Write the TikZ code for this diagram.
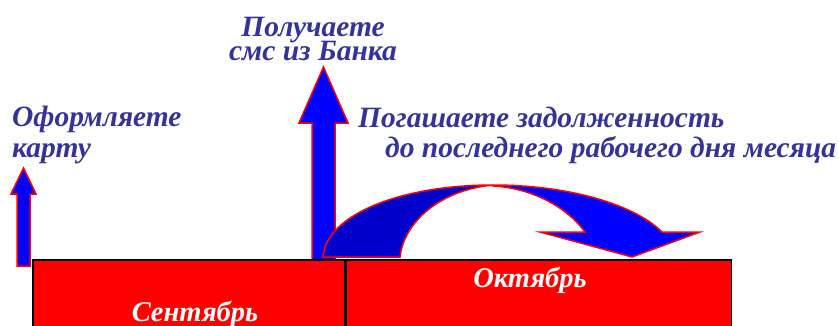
\documentclass[tikz,border=0pt]{standalone}
\usepackage{fontspec}
\setmainfont{Liberation Serif}
\usetikzlibrary{positioning}

\definecolor{capblue}{RGB}{51,51,153}
\definecolor{arrowblue}{RGB}{0,0,255}
\definecolor{backblue}{RGB}{0,0,204}
\definecolor{monthred}{RGB}{255,0,0}

\begin{document}
\begin{tikzpicture}[
  x=1pt, y=-1pt,
  caption/.style={
    text=capblue,
    font=\bfseries\itshape\fontsize{29.5}{31}\selectfont,
    inner sep=0pt,
    align=left
  },
  monthbox/.style={
    draw=black,
    line width=1.6pt,
    fill=monthred,
    anchor=north west,
    minimum height=80pt,
    inner sep=0pt
  },
  monthname/.style={
    text=white,
    font=\bfseries\itshape\fontsize{28.5}{30}\selectfont,
    inner sep=0pt
  },
  blockarrow/.style={
    draw=monthred,
    line width=1.5pt,
    fill=arrowblue,
    line join=miter
  }
]
\useasboundingbox (0,0) rectangle (839,325);

% Captions (base = last line)
\node[caption, anchor=base west] (card) at (12,157) {Оформляете\\карту};
\node[caption, align=center, anchor=base] (sms) at (313,60) {Получаете\\[-7pt]смс из Банка};
\node[caption, anchor=base west] (pay) at (358,157)
  {Погашаете задолженность\\[-1pt]\hspace*{27pt}до последнего рабочего дня месяца};

% Straight arrows
\draw[blockarrow] (17,266) -- (17,194) -- (11,194) -- (23.5,168) -- (36,194)
  -- (30,194) -- (30,266) -- cycle;
\draw[blockarrow] (312,262) -- (312,123) -- (299,123) -- (323.5,67) -- (348,123)
  -- (335,123) -- (335,262) -- cycle;

% Curved arrow
\draw[blockarrow, fill=backblue] (323,257) .. controls (326,215) and (400,185) .. (493,185)
  .. controls (440,190) and (404,222) .. (400,257) -- cycle;
\draw[blockarrow] (493,185) .. controls (570,185) and (635,205) .. (662,232)
  -- (700,232) -- (632,257) -- (540,232) -- (585,232)
  .. controls (565,205) and (530,188) .. (493,186) -- cycle;

% Months
\node[monthbox, minimum width=312pt] (sep) at (32,259) {};
\node[monthbox, minimum width=385pt] (oct) at (sep.north east) {};
\node[monthname, anchor=base] (seplbl) at (195,321) {Сентябрь};
\node[monthname, anchor=base] (octlbl) at (530,287) {Октябрь};

\end{tikzpicture}
\end{document}
